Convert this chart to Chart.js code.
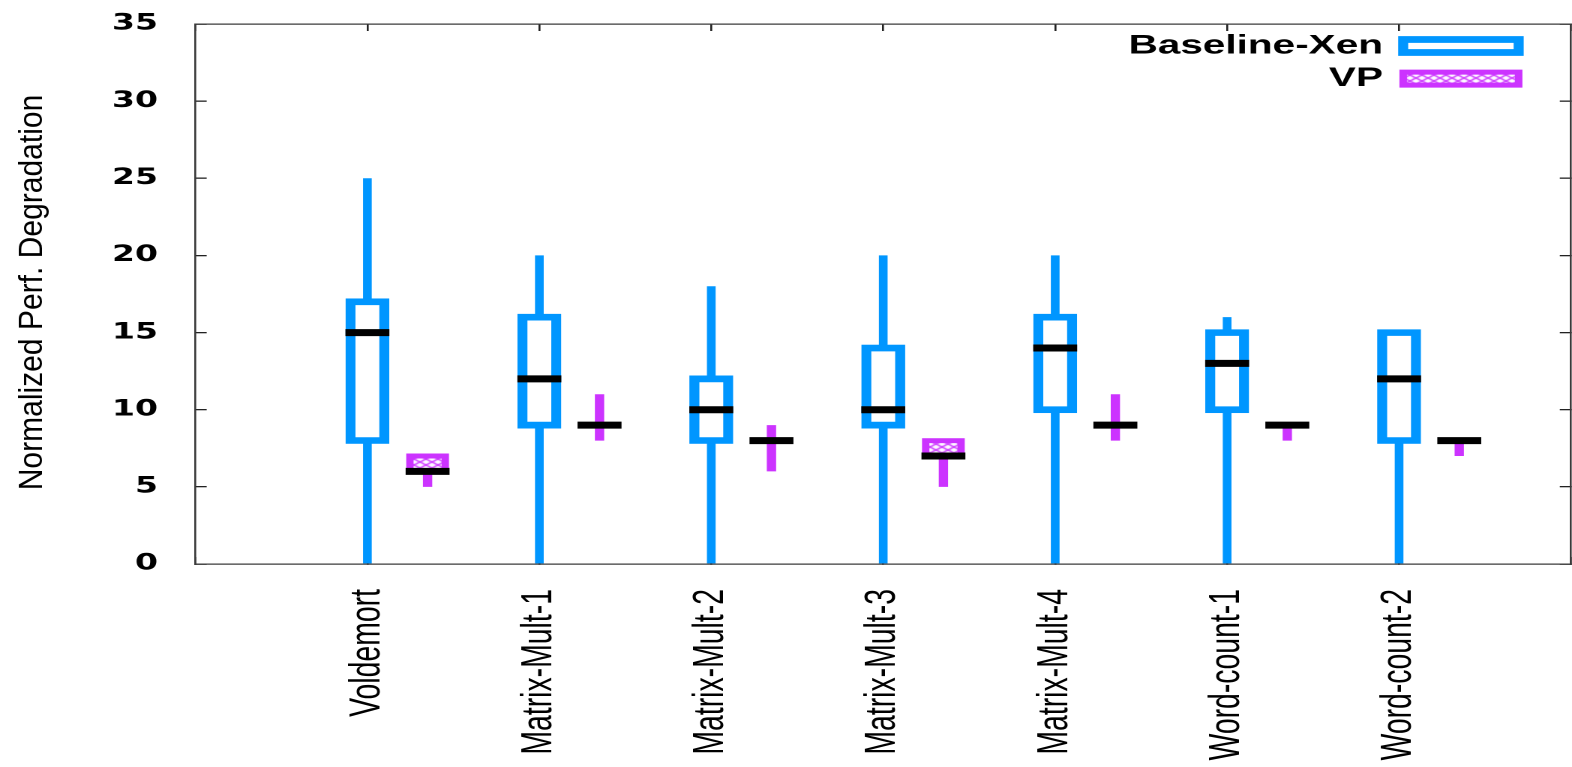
<!DOCTYPE html>
<html>
<head>
<meta charset="utf-8">
<script src="https://cdn.jsdelivr.net/npm/chart.js@4.4.0/dist/chart.umd.min.js"></script>
<style>
html, body { margin: 0; padding: 0; background: #ffffff; overflow: hidden; width: 1572px; height: 767px; }
#wrap { position: absolute; left: 0; top: 0; width: 1069px; height: 767px; transform: scaleX(1.5); transform-origin: 0 0; }
</style>
</head>
<body>
<div id="wrap"><canvas id="chart"></canvas></div>
<script>
// ---- data ----
const categories = ['Voldemort', 'Matrix-Mult-1', 'Matrix-Mult-2', 'Matrix-Mult-3', 'Matrix-Mult-4', 'Word-count-1', 'Word-count-2'];

const baselineMin = [0, 0, 0, 0, 0, 0, 0];
const baselineQ1  = [8, 9, 8, 9, 10, 10, 8];
const baselineMed = [15, 12, 10, 10, 14, 13, 12];
const baselineQ3  = [17, 16, 12, 14, 16, 15, 15];
const baselineMax = [25, 20, 18, 20, 20, 16, 15];

const vpMin = [5, 8, 6, 5, 8, 8, 7];
const vpQ1  = [6, 9, 8, 7, 9, 9, 8];
const vpMed = [6, 9, 8, 7, 9, 9, 8];
const vpQ3  = [7, 9, 8, 8, 9, 9, 8];
const vpMax = [7, 11, 9, 8, 11, 9, 8];

const seriesNames = ['Baseline-Xen', 'VP'];
const yAxisTitle = 'Normalized Perf. Degradation';
const yMin = 0, yMax = 35, yStep = 5;

// ---- styling ----
const BLUE = '#0096ff';
const PURPLE = '#cc33ff';
const FRAME = '#3a3a3a';
const VP_OFFSET = 0.35;

function makePattern() {
  const c = document.createElement('canvas');
  c.width = 8; c.height = 6;
  const g = c.getContext('2d');
  g.fillStyle = '#ffffff';
  g.fillRect(0, 0, 8, 6);
  g.strokeStyle = PURPLE;
  g.lineWidth = 1.3;
  g.beginPath();
  g.moveTo(0, 0); g.lineTo(8, 6);
  g.moveTo(8, 0); g.lineTo(0, 6);
  g.stroke();
  return g.createPattern(c, 'repeat');
}
const vpPattern = makePattern();

const xPos = (i, off) => i + 1 + off;
const whiskerData = (mins, maxs, off) => categories.map((c, i) => ({ x: xPos(i, off), y: [mins[i], maxs[i]] }));
const boxData = (q1, q3, off) => categories.map((c, i) => (q3[i] > q1[i] ? { x: xPos(i, off), y: [q1[i], q3[i]] } : null)).filter(Boolean);
const medData = (med, off) => categories.map((c, i) => ({ x: xPos(i, off), y: med[i] }));

const medianStyle = {
  type: 'line', showLine: false, pointStyle: 'line',
  pointRadius: 14.65, pointHoverRadius: 14.65,
  pointBorderWidth: 7, pointHoverBorderWidth: 7,
  pointBorderColor: '#000000', pointBackgroundColor: '#000000',
  order: 0
};

Chart.defaults.font.family = 'Liberation Sans';
Chart.defaults.color = '#000000';

const gridOpts = (len) => ({
  display: true, drawOnChartArea: false, drawTicks: true,
  tickLength: len, color: '#222222', lineWidth: 1.3, offset: false
});
const borderOpts = { display: true, color: FRAME, width: 1.3 };

const customPlugin = {
  id: 'gnuplotLook',
  afterLayout(chart) {
    const lg = chart.legend;
    const ca = chart.chartArea;
    if (lg) {
      const w = lg.width;
      lg.right = ca.right - 29.3;
      lg.left = lg.right - w;
      lg.top = ca.top + 2.9;
      lg.height = 200;
      lg.bottom = lg.top + 200;
    }
  },
  afterDraw(chart) {
    const ctx = chart.ctx;
    const ca = chart.chartArea;
    ctx.save();
    ctx.translate(21.7, (ca.top + ca.bottom) / 2 - 1.5);
    ctx.scale(1 / 1.5, 0.91);
    ctx.rotate(-Math.PI / 2);
    ctx.font = '33px "Liberation Sans"';
    ctx.fillStyle = '#000000';
    ctx.textAlign = 'center';
    ctx.textBaseline = 'middle';
    ctx.fillText(yAxisTitle, 0, 0);
    ctx.restore();
  }
};

new Chart(document.getElementById('chart'), {
  type: 'bar',
  data: {
    datasets: [
      Object.assign({ label: seriesNames[0] + ' median', data: medData(baselineMed, 0) }, medianStyle),
      Object.assign({ label: seriesNames[1] + ' median', data: medData(vpMed, VP_OFFSET) }, medianStyle),
      {
        type: 'bar', label: seriesNames[0], data: boxData(baselineQ1, baselineQ3, 0),
        backgroundColor: '#ffffff', borderColor: BLUE, borderWidth: 6.7, borderSkipped: false,
        inflateAmount: 3.35, barThickness: 22.6, grouped: false, order: 1
      },
      {
        type: 'bar', label: seriesNames[1], data: boxData(vpQ1, vpQ3, VP_OFFSET),
        backgroundColor: vpPattern, borderColor: PURPLE, borderWidth: 5, borderSkipped: false,
        inflateAmount: 2.5, barThickness: 23.7, grouped: false, order: 1
      },
      {
        type: 'bar', label: seriesNames[0] + ' whiskers', data: whiskerData(baselineMin, baselineMax, 0),
        backgroundColor: BLUE, borderWidth: 0, inflateAmount: 0, barThickness: 5.8, grouped: false, order: 2
      },
      {
        type: 'bar', label: seriesNames[1] + ' whiskers', data: whiskerData(vpMin, vpMax, VP_OFFSET),
        backgroundColor: PURPLE, borderWidth: 0, inflateAmount: 0, barThickness: 6.2, grouped: false, order: 2
      }
    ]
  },
  options: {
    responsive: true,
    maintainAspectRatio: false,
    animation: false,
    devicePixelRatio: 2,
    events: [],
    layout: { padding: { left: 0, right: 0, top: 24, bottom: 0 } },
    scales: {
      x: {
        type: 'linear', position: 'bottom', min: 0, max: categories.length + 1, offset: false,
        grid: gridOpts(-7), border: borderOpts,
        ticks: {
          stepSize: 1, autoSkip: false, minRotation: 90, maxRotation: 90, padding: 32,
          font: { family: 'Liberation Sans', size: 28.4 }, color: '#000000',
          callback: (v) => (Number.isInteger(v) && v >= 1 && v <= categories.length ? categories[v - 1] : '')
        },
        afterFit: (s) => { s.height = 203; s.paddingLeft = 0; s.paddingRight = 0; }
      },
      x2: {
        type: 'linear', position: 'top', min: 0, max: categories.length + 1, offset: false, display: true,
        grid: gridOpts(-7), border: borderOpts,
        ticks: { display: false, stepSize: 1, autoSkip: false },
        afterFit: (s) => { s.height = 0; s.paddingLeft = 0; s.paddingRight = 0; }
      },
      y: {
        type: 'linear', position: 'left', min: yMin, max: yMax,
        grid: gridOpts(-7.5), border: borderOpts,
        ticks: {
          stepSize: yStep, padding: 32.5, color: '#000000',
          font: { family: 'DejaVu Sans', size: 22, weight: 'bold' }
        },
        afterFit: (s) => { s.width = 130.3; s.paddingTop = 0; s.paddingBottom = 0; }
      },
      y2: {
        type: 'linear', position: 'right', min: yMin, max: yMax, display: true,
        grid: gridOpts(-7.5), border: borderOpts,
        ticks: { display: false, stepSize: yStep },
        afterFit: (s) => { s.width = 0; s.paddingTop = 0; s.paddingBottom = 0; }
      }
    },
    plugins: {
      tooltip: { enabled: false },
      legend: {
        display: true, position: 'chartArea', align: 'start', rtl: true, textDirection: 'ltr',
        labels: {
          filter: (item) => seriesNames.includes(item.text),
          boxWidth: 77, boxHeight: 13, padding: 5.6, color: '#000000',
          font: { family: 'Liberation Sans', size: 27, weight: 'bold' }
        }
      }
    }
  },
  plugins: [customPlugin]
});
</script>
</body>
</html>
